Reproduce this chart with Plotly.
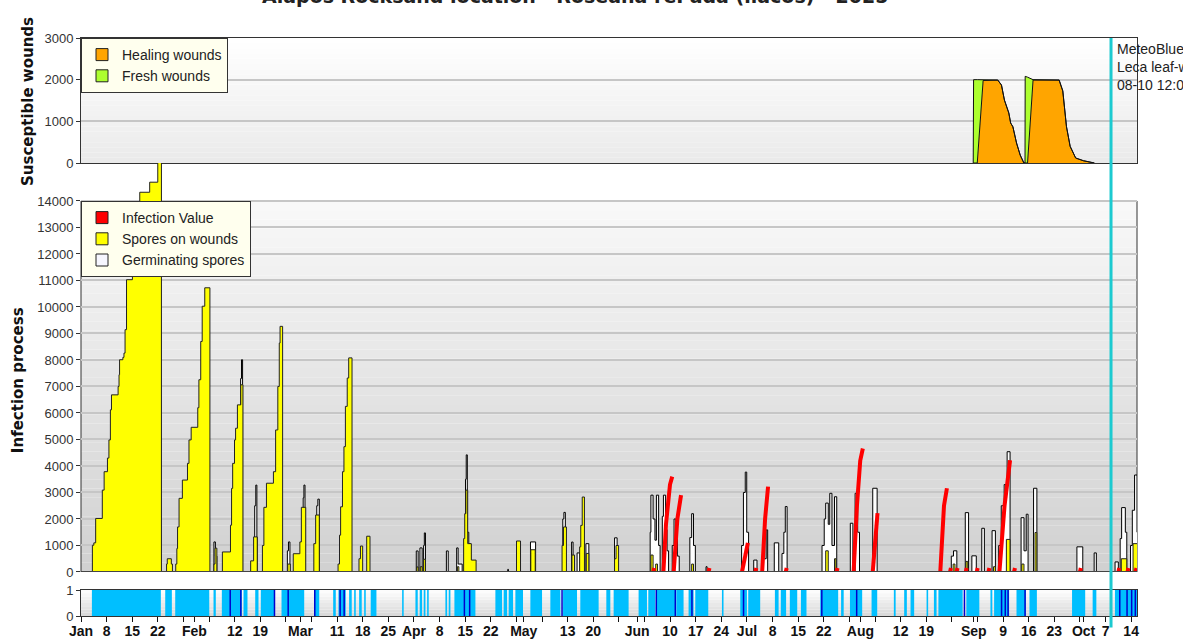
import pandas as pd
import plotly.graph_objects as go

BASE = pd.Timestamp("2024-01-01")

TITLE = "Alapos Rocksand location · Roseana rePada (ilacos) - 2025"
STATION_NOTE = ["MeteoBlue", "Leca leaf-wetness", "08-10 12:00"]
Y_TITLES = ["Susceptible wounds", "Infection process"]

# ---------------- top panel : susceptible wounds (day of year 2024) ----------------
WOUND_DAY = [243.84, 243.94, 244.94, 246.55, 250.56, 251.56, 252.37, 253.57, 254.07, 254.68,
             255.68, 256.68, 257.69, 257.99, 258.04, 258.69, 260.19, 267.32, 268.32, 269.33,
             270.33, 271.84, 273.94, 276.95]
HEALING_VAL = [0, 0, 0, 1980, 1990, 1870, 1510, 1200, 960, 870, 480, 190, 0, 0, 0, 0,
               1990, 1990, 1730, 870, 400, 120, 55, 0]
FRESH_VAL = [0, 2000, 2000, 20, 0, 0, 0, 0, 0, 0, 0, 0, 0, 0, 2080, 2060, 10, 0, 0, 0,
             0, 0, 0, 0]

# ---------------- middle panel : infection process ----------------
SPORES_DAY = [0.0, 3.11, 3.51, 4.01, 5.82, 6.32, 7.23, 7.63, 8.03, 8.33, 10.14, 10.39, 10.54,
              11.44, 11.74, 12.04, 12.44, 14.05, 14.85, 16.06, 18.77, 20.98, 21.98,
              23.38, 23.58, 24.69, 24.99,
              25.89, 26.19, 26.39, 26.8, 27.7, 29.1, 29.51, 30.11, 31.91, 32.22, 32.72, 33.12, 33.82, 35.23,
              36.33, 36.63, 37.13,
              38.64, 40.85, 41.15, 41.45, 41.95, 42.25, 42.75, 43.66, 44.26,
              46.37, 47.17, 48.17,
              49.58, 49.98, 50.68, 52.59, 53.19, 53.79, 54.19, 54.4, 55.1,
              56.5, 57.2,
              58.01, 59.81, 60.22, 61.42,
              63.63, 64.13, 65.13,
              70.25, 70.65, 70.95, 71.46, 71.86, 72.26, 72.76, 73.16, 74.07,
              75.97, 76.37, 76.98,
              78.08, 78.98,
              91.73, 92.13, 92.73, 93.23, 93.64, 94.14,
              102.87, 103.27,
              104.57, 104.87, 105.18, 105.68, 106.68, 107.98,
              119.02, 120.12,
              122.93, 124.14,
              131.47, 131.87, 132.67,
              134.17, 134.88,
              136.28, 136.58, 136.98, 137.59,
              138.09, 138.79,
              145.82, 146.22, 146.92,
              155.75, 156.35,
              157.06, 157.56,
              166.89, 167.39,
              203.52, 204.22, 205.93, 206.33,
              210.95, 211.35,
              238.35, 238.85,
              241.86, 242.36,
              249.39, 249.89,
              252.9, 253.9,
              257.11, 257.71,
              260.73, 261.22,
              284.31, 285.81,
              287.52, 288.6]
SPORES_VAL = [0, 1010, 1100, 2020, 3090, 3785, 4300, 4984, 6120, 6685, 7000, 7445, 8010,
              8100, 8260, 9145, 11030, 12800, 13900, 14330, 14710, 15600, 0,
              300, 500, 300, 0,
              300, 885, 1700, 2780, 3470, 4100, 4984, 5460, 6200, 7255, 8700, 10030, 10725, 0,
              300, 900, 0,
              757, 1767, 3155, 4100, 4984, 5425, 6307, 7064, 0,
              420, 1325, 0,
              1000, 2440, 3350, 3785, 5360, 7000, 8640, 9270, 0,
              300, 0,
              690, 1135, 2440, 0,
              1070, 2150, 0,
              300, 1390, 2460, 3785, 4730, 6250, 7320, 8080, 0,
              500, 980, 0,
              1350, 0,
              190, 0, 200, 0, 480, 0,
              200, 0,
              1260, 2200, 3090, 1070, 450, 0,
              1170, 0,
              840, 0,
              1000, 1700, 0,
              640, 0,
              950, 1760, 2830, 0,
              700, 0,
              500, 1000, 0,
              640, 0,
              300, 0,
              300, 0,
              800, 0, 500, 0,
              200, 0,
              300, 0,
              400, 0,
              200, 0,
              1230, 0,
              300, 0,
              1490, 0,
              500, 0,
              1070, 1070]

GERM_DAY = [0.0,
            36.33, 36.73, 37.13,
            43.62, 43.86, 44.16,
            47.47, 47.77, 48.07, 48.17,
            56.4, 56.7, 57.1,
            60.72, 60.92, 61.22,
            64.43, 64.73, 65.13,
            91.63, 92.13, 92.63, 93.23, 93.63, 93.83, 94.14,
            99.86, 100.36,
            102.67, 103.07, 104.17,
            105.08, 105.28, 105.58, 105.98, 106.38,
            116.62, 116.82,
            122.84, 124.24,
            131.67, 131.97, 132.37,
            134.08, 134.48,
            135.58, 136.28,
            137.99, 138.79,
            145.82, 146.52,
            155.55, 155.75, 156.35, 156.86, 157.26, 157.86, 158.27,
            158.87, 159.17, 159.77, 160.17, 160.58,
            161.58, 162.08, 162.58, 162.98, 163.49,
            166.39, 166.89, 167.39, 167.9,
            170.81, 171.11,
            180.54, 181.04, 181.54, 181.94, 182.45,
            183.85, 184.75,
            186.16, 187.26, 187.66,
            189.47, 190.68,
            191.58, 192.08, 192.48, 192.98,
            202.52, 203.12, 203.52, 204.22, 204.63, 205.23, 205.93, 206.54,
            210.25, 210.95,
            211.56, 212.26, 212.76,
            216.38, 217.58,
            237.85, 238.45, 239.36,
            241.67, 242.57,
            243.47, 244.68,
            246.18, 246.89,
            248.99, 249.9,
            250.8, 251.5, 252.3, 253.11, 253.91,
            256.92, 257.72, 258.33, 258.83,
            260.33, 261.24,
            272.18, 273.78,
            276.89, 277.49,
            282.6, 283.5,
            284.0, 284.4, 285.41, 285.81,
            286.82, 287.32, 287.93, 288.6]
GERM_VAL = [0,
            1135, 600, 0,
            7300, 8010, 0,
            2500, 3280, 1300, 0,
            800, 1135, 0,
            2800, 3280, 0,
            2500, 2750, 0,
            795, 0, 909, 0, 1000, 1475, 0,
            795, 0,
            909, 300, 0,
            3500, 4420, 1500, 1070, 0,
            100, 0,
            1135, 0,
            2000, 2250, 0,
            1130, 0,
            720, 0,
            1070, 0,
            1290, 0,
            1500, 2900, 2000, 1200, 2900, 1000, 0,
            2100, 2900, 1600, 800, 0,
            1000, 2000, 1500, 600, 0,
            1300, 2200, 1000, 0,
            200, 0,
            1000, 3000, 3770, 1500, 0,
            450, 0,
            500, 1590, 0,
            1100, 0,
            700, 1500, 2470, 0,
            1000, 2000, 2600, 1800, 2970, 1000, 2840, 0,
            1840, 0,
            2970, 1500, 0,
            3160, 0,
            600, 800, 0,
            2240, 0,
            610, 0,
            1650, 0,
            1560, 0,
            1000, 2500, 3300, 4540, 0,
            2050, 800, 2180, 0,
            3160, 0,
            950, 0,
            720, 0,
            380, 0,
            1260, 2430, 1500, 0,
            1000, 2330, 3660, 1500]

INFECT_DAY = [159.17, 159.87, 160.97, 161.58, None,
              161.98, 162.98, 163.99, None,
              180.64, 182.25, None,
              186.16, 186.96, 187.77, None,
              211.15, 212.06, 212.96, 213.67, None,
              216.38, 217.08, 217.68, None,
              234.84, 235.85, 236.65, None,
              251.0, 252.4, 253.91, None,
              156.4, 156.65, None, 171.5, 171.75, None, 184.3, 184.55, None,
              192.6, 192.85, None, 206.5, 206.75, None, 237.5, 237.75, None,
              239.3, 239.55, None, 241.8, 242.05, None, 244.8, 245.05, None,
              248.0, 248.25, None, 255.0, 255.25, None, 273.0, 273.25, None,
              283.5, 283.75, None, 286.0, 286.25, None, 288.2, 288.45]
INFECT_VAL = [0, 1800, 3300, 3600, None,
              0, 2000, 2900, None,
              0, 1100, None,
              0, 2000, 3220, None,
              0, 2500, 4200, 4660, None,
              0, 1500, 2220, None,
              0, 2500, 3160, None,
              0, 2500, 4220, None,
              0, 150, None, 0, 150, None, 0, 150, None,
              0, 150, None, 0, 150, None, 0, 150, None,
              0, 150, None, 0, 150, None, 0, 150, None,
              0, 150, None, 0, 150, None, 0, 150, None,
              0, 150, None, 0, 150, None, 0, 150]

# ---------------- bottom strip : wetness periods / rain ----------------
WET_START = [2.98, 23.02, 25.75, 36.22, 38.49, 44.41, 47.61, 49.14, 54.80, 63.73, 68.92, 70.36,
             73.28, 74.65, 76.02, 77.39, 79.18, 87.76, 91.40, 92.57, 93.66, 94.59, 99.59, 100.49,
             102.05, 113.25, 115.51, 116.88, 118.71, 122.81, 128.27, 131.74, 136.46, 143.57,
             145.57, 152.39, 155.04, 157.42, 162.69, 166.05, 167.88, 175.17, 180.17, 182.35,
             189.64, 191.25, 193.72, 196.75, 202.02, 207.73, 210.15, 216.06, 222.15, 224.97,
             226.71, 231.09, 233.1, 234.33, 241.96, 248.55, 249.55, 255.67, 259.22, 270.85,
             276.48, 282.57]
WET_END = [21.82, 24.83, 35.05, 36.84, 43.95, 45.50, 48.51, 52.75, 61.0, 65.10, 69.63, 72.36,
           73.99, 75.09, 76.72, 77.82, 80.74, 88.19, 92.03, 93.22, 94.13, 95.03, 100.06, 100.96,
           107.79, 115.08, 116.45, 118.08, 120.8, 126.0, 131.01, 135.56, 141.47, 144.66,
           149.66, 154.68, 156.95, 162.42, 164.68, 167.42, 171.43, 175.6, 182.0, 185.62,
           190.65, 192.7, 195.74, 198.27, 206.93, 208.44, 213.49, 217.6, 222.64, 225.7,
           227.7, 231.52, 233.82, 240.95, 245.51, 249.06, 253.65, 258.2, 261.24, 274.44,
           277.49, 288.6]
RAIN_DAY = [40.78, 43.68, 52.88, 56.62, 63.89, 70.82, 71.92, 104.78, 106.22, 131.47, 157.23,
            162.42, 166.97, 181.07, 202.46, 211.99, 241.44, 251.59, 252.6, 253.37, 258.01,
            283.89, 285.88, 287.14, 288.14]

NOW_DAY = 281.5
X_RANGE_DAYS = [0.0, 288.6]

TICK_DATES = ["2024-01-01", "2024-01-08", "2024-01-15", "2024-01-22", "2024-01-29", "2024-02-01",
              "2024-02-05", "2024-02-12", "2024-02-19", "2024-02-26", "2024-03-01", "2024-03-04",
              "2024-03-11", "2024-03-18", "2024-03-25", "2024-04-01", "2024-04-08", "2024-04-15",
              "2024-04-22", "2024-04-29", "2024-05-01", "2024-05-06", "2024-05-13", "2024-05-20",
              "2024-05-27", "2024-06-01", "2024-06-03", "2024-06-10", "2024-06-17", "2024-06-24",
              "2024-07-01", "2024-07-08", "2024-07-15", "2024-07-22", "2024-07-29", "2024-08-01",
              "2024-08-05", "2024-08-12", "2024-08-19", "2024-08-26", "2024-09-01", "2024-09-02",
              "2024-09-09", "2024-09-16", "2024-09-23", "2024-09-30", "2024-10-01", "2024-10-07",
              "2024-10-14"]
TICK_LABELS = ["Jan", "8", "15", "22", "", "Feb",
               "", "12", "19", "", "Mar", "",
               "11", "18", "25", "Apr", "8", "15",
               "22", "", "May", "", "13", "20",
               "", "Jun", "", "10", "17", "24",
               "Jul", "8", "15", "22", "", "Aug",
               "", "12", "19", "", "Sep", "",
               "9", "16", "23", "", "Oct", "7",
               "14"]

TOP_TICKS = [0, 1000, 2000, 3000]
MID_TICKS = list(range(0, 14001, 1000))


def to_dt(days):
    return [None if d is None else (BASE + pd.Timedelta(days=d)).strftime("%Y-%m-%d %H:%M:%S")
            for d in days]


FONT = "Liberation Sans, Arial, sans-serif"
TITLE_FONT = "DejaVu Sans, Verdana, sans-serif"

# panel domains (paper fraction); middle axis stretches up to the top panel so tall columns overflow
D_BOTTOM = [0.0, 0.04498]
D_MID_BOTTOM = 0.07612
D_MID_TOP = 0.71799
D_TOP = [0.78374, 1.0]
MID_MAX = 14000
MID_RANGE_TOP = MID_MAX * (D_TOP[0] - D_MID_BOTTOM) / (D_MID_TOP - D_MID_BOTTOM)

fig = go.Figure()

# --- top panel
fig.add_trace(go.Scatter(x=to_dt(WOUND_DAY), y=HEALING_VAL, stackgroup="w", mode="lines",
                         line=dict(color="#111", width=1), fillcolor="#ffa500",
                         showlegend=False, xaxis="x", yaxis="y", hoverinfo="skip"))
fig.add_trace(go.Scatter(x=to_dt(WOUND_DAY), y=FRESH_VAL, stackgroup="w", mode="lines",
                         line=dict(color="#111", width=1), fillcolor="#adff2f",
                         showlegend=False, xaxis="x", yaxis="y", hoverinfo="skip"))

# --- middle panel
fig.add_trace(go.Scatter(x=to_dt(GERM_DAY), y=GERM_VAL, mode="lines", fill="tozeroy",
                         line=dict(color="#000", width=1, shape="hv"), fillcolor="#ffffff",
                         showlegend=False, xaxis="x2", yaxis="y2", hoverinfo="skip"))
fig.add_trace(go.Scatter(x=to_dt(SPORES_DAY), y=SPORES_VAL, mode="lines", fill="tozeroy",
                         line=dict(color="#222", width=1, shape="hv"), fillcolor="#ffff00",
                         showlegend=False, xaxis="x2", yaxis="y2", hoverinfo="skip"))
fig.add_trace(go.Scatter(x=to_dt(INFECT_DAY), y=INFECT_VAL, mode="lines",
                         line=dict(color="#ff0000", width=4), connectgaps=False,
                         showlegend=False, xaxis="x2", yaxis="y2", hoverinfo="skip"))

# --- bottom strip
wx, wy = [], []
for s, e in zip(WET_START, WET_END):
    wx += [s, s, e, e, None]
    wy += [0, 1, 1, 0, None]
fig.add_trace(go.Scatter(x=to_dt(wx), y=wy, mode="lines", fill="toself", fillcolor="#00bfff",
                         line=dict(width=0, color="#00bfff"), showlegend=False,
                         xaxis="x3", yaxis="y3", hoverinfo="skip"))
rx, ry = [], []
for d in RAIN_DAY:
    rx += [d, d, None]
    ry += [0, 1, None]
fig.add_trace(go.Scatter(x=to_dt(rx), y=ry, mode="lines", line=dict(color="#0000cd", width=1.5),
                         showlegend=False, xaxis="x3", yaxis="y3", hoverinfo="skip"))

# --- legend entries (square swatches)
for name, col, leg, xa, ya in [("Healing wounds", "#ffa500", "legend", "x", "y"),
                               ("Fresh wounds", "#adff2f", "legend", "x", "y"),
                               ("Infection Value", "#ff0000", "legend2", "x2", "y2"),
                               ("Spores on wounds", "#ffff00", "legend2", "x2", "y2"),
                               ("Germinating spores", "#f6f6ff", "legend2", "x2", "y2")]:
    fig.add_trace(go.Bar(x=[None], y=[None], name=name, legend=leg, xaxis=xa, yaxis=ya,
                         marker=dict(color=col, line=dict(color="#222", width=1))))


def mix(c1, c2, t):
    return "rgb(%d,%d,%d)" % tuple(round(a + (b - a) * t) for a, b in zip(c1, c2))


shapes = []


def bands(xref, yref, vmax, c_bot, c_top, n):
    for i in range(n):
        shapes.append(dict(type="rect", xref=xref, yref=yref, x0=0, x1=1,
                           y0=vmax * i / n, y1=vmax * (i + 1) / n,
                           fillcolor=mix(c_bot, c_top, (i + 0.5) / n), line=dict(width=0),
                           layer="below"))


bands("x domain", "y", 3000, (234, 234, 234), (255, 255, 255), 24)
bands("x2 domain", "y2", MID_MAX, (208, 208, 208), (249, 249, 249), 40)
bands("x3 domain", "y3", 1, (214, 214, 214), (255, 255, 255), 8)
shapes.append(dict(type="rect", xref="x2 domain", yref="y2", x0=0, x1=1, y0=0, y1=MID_MAX,
                   line=dict(color="#333", width=1), fillcolor="rgba(0,0,0,0)", layer="below"))
shapes.append(dict(type="line", xref="x2 domain", yref="y2", x0=0, x1=1, y0=0, y1=0,
                   line=dict(color="#444", width=2), layer="above"))
now = to_dt([NOW_DAY])[0]
shapes.append(dict(type="line", xref="x3", yref="paper", x0=now, x1=now, y0=-0.02, y1=1.0,
                   line=dict(color="#1ccad0", width=3), layer="above"))

annotations = [
    dict(text="<b>%s</b>" % TITLE, xref="paper", yref="paper", x=0.468, y=1.0722,
         xanchor="center", yanchor="middle", showarrow=False,
         font=dict(family=TITLE_FONT, size=19, color="#222")),
    dict(text="<br>".join(STATION_NOTE), xref="paper", yref="paper", x=0.979, y=0.9985,
         xanchor="left", yanchor="top", align="left", showarrow=False,
         font=dict(family=FONT, size=14, color="#222")),
    dict(text="<b>%s</b>" % Y_TITLES[0], xref="paper", yref="paper", x=-0.0502, y=0.891,
         xanchor="center", yanchor="middle", textangle=-90, showarrow=False,
         font=dict(family=TITLE_FONT, size=15, color="#111")),
    dict(text="<b>%s</b>" % Y_TITLES[1], xref="paper", yref="paper", x=-0.0597, y=0.408,
         xanchor="center", yanchor="middle", textangle=-90, showarrow=False,
         font=dict(family=TITLE_FONT, size=15, color="#111")),
]

xr = to_dt(X_RANGE_DAYS)
tickfont = dict(family=FONT, size=13, color="#333")
legend_style = dict(bgcolor="#ffffee", bordercolor="#333", borderwidth=1,
                    font=dict(family=FONT, size=14, color="#222"),
                    xanchor="left", yanchor="top", x=0, tracegroupgap=0,
                    traceorder="normal")

fig.update_layout(
    width=1183, height=639,
    margin=dict(l=81, r=46, t=38, b=23, autoexpand=False),
    paper_bgcolor="white", plot_bgcolor="white",
    showlegend=True, barmode="overlay",
    legend=dict(**legend_style, y=1.0),
    legend2=dict(**legend_style, y=D_MID_TOP),
    shapes=shapes, annotations=annotations,
    xaxis=dict(domain=[0, 1], anchor="y", range=xr, type="date", showticklabels=False,
               ticks="", showgrid=False, showline=True, mirror=True, linecolor="#333",
               linewidth=1, matches="x3", automargin=False),
    yaxis=dict(domain=D_TOP, anchor="x", range=[0, 3000], tickvals=TOP_TICKS, ticks="outside",
               ticklen=4, tickcolor="#333", showline=True, mirror=True, linecolor="#333",
               gridcolor="#c6c6c6", gridwidth=1.5, zeroline=False, tickfont=tickfont,
               tickformat="d", automargin=False),
    xaxis2=dict(domain=[0, 1], anchor="y2", range=xr, type="date", showticklabels=False,
                ticks="", showgrid=False, showline=False, zeroline=False, matches="x3",
                automargin=False),
    yaxis2=dict(domain=[D_MID_BOTTOM, D_TOP[0]], anchor="x2", range=[0, MID_RANGE_TOP],
                tickvals=MID_TICKS, ticks="outside", ticklen=4, tickcolor="#333",
                showline=False, gridcolor="#c6c6c6", gridwidth=1.5, zeroline=False,
                tickfont=tickfont, tickformat="d", automargin=False),
    xaxis3=dict(domain=[0, 1], anchor="y3", range=xr, type="date", tickvals=TICK_DATES,
                ticktext=TICK_LABELS, ticks="outside", ticklen=5, tickcolor="#111",
                showgrid=False, showline=True, mirror=True, linecolor="#333",
                tickfont=dict(family=FONT, size=14, color="#111", weight="bold"),
                ticklabelstandoff=-3, automargin=False),
    yaxis3=dict(domain=D_BOTTOM, anchor="x3", range=[0, 1], tickvals=[0, 1], ticks="outside",
                ticklen=4, tickcolor="#333", showline=True, mirror=True, linecolor="#333",
                showgrid=False, zeroline=False, tickfont=tickfont, automargin=False),
)

fig.write_html("out.html", config={"displayModeBar": False},
               post_script="document.body.style.margin='0';document.body.style.overflow='hidden';")
